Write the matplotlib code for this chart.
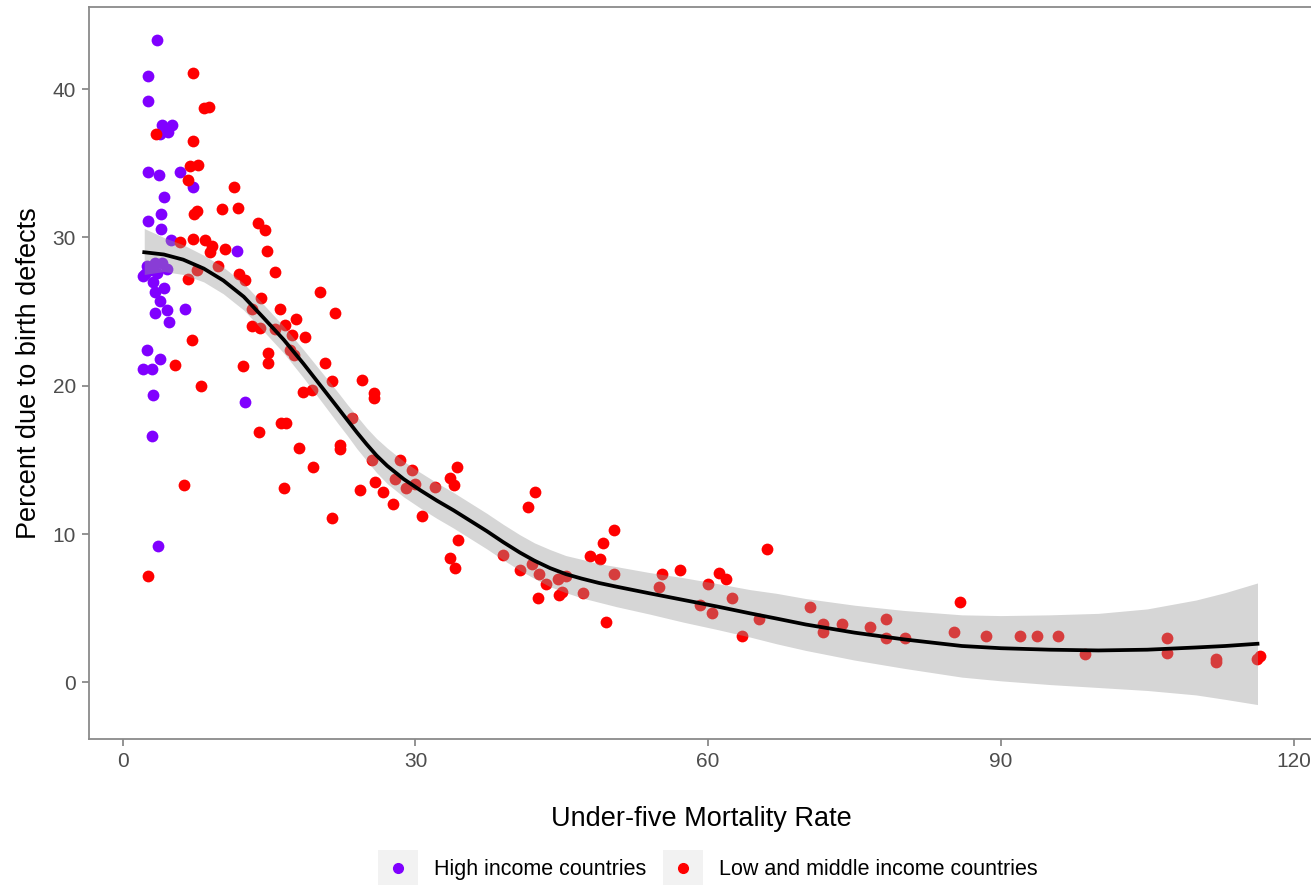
# -*- coding: utf-8 -*-
"""
Under-five mortality rate vs percent of deaths due to birth defects,
scatter by income group with a smoothed trend and confidence band.
"""

# import libraries
import matplotlib.pyplot as plt
from matplotlib.lines import Line2D
from matplotlib.patches import Rectangle
from matplotlib.legend_handler import HandlerBase

# high income countries (under-five mortality, percent due to birth defects)
high_x = [3.5, 2.6, 2.6, 4.0, 5.0, 4.6, 3.8, 2.6, 3.7, 5.9, 7.2, 4.2, 3.9,
          2.6, 3.9, 4.9, 11.7, 2.5, 3.3, 4.0, 4.5, 2.8, 2.1, 3.5, 3.1, 3.3,
          3.8, 4.5, 3.3, 4.7, 6.4, 2.5, 3.8, 2.1, 3.0, 3.1, 12.5, 3.0, 3.6,
          2.3, 3.0, 4.2]
high_y = [43.3, 40.9, 39.2, 37.6, 37.6, 37.1, 37.0, 34.4, 34.2, 34.4, 33.4,
          32.7, 31.6, 31.1, 30.6, 29.8, 29.1, 28.1, 28.3, 28.3, 27.9, 27.8,
          27.4, 27.6, 27.0, 26.3, 25.7, 25.1, 24.9, 24.3, 25.2, 22.4, 21.8,
          21.1, 21.1, 19.4, 18.9, 16.6, 9.2, 27.5, 28.0, 26.6]

# low and middle income countries
low_x = [2.6, 3.4, 5.4, 5.9, 6.3, 6.7, 6.7, 6.9, 7.1, 7.2, 7.2, 7.2, 7.3,
         7.6, 7.6, 7.7, 8.0, 8.3, 8.4, 8.8, 8.9, 9.1, 9.8, 10.2, 10.5, 11.4,
         11.8, 11.9,
         12.3, 12.5, 13.2, 13.2, 13.9, 14.0, 14.1, 14.2, 14.6, 14.8, 14.9,
         14.9, 15.6, 15.6, 16.1, 16.2, 16.5, 16.6, 16.7, 17.1, 17.3, 17.5,
         17.8, 18.1, 18.5, 18.7, 19.4, 19.5,
         20.2, 20.7, 21.4, 21.4, 21.8, 22.3, 22.3, 23.5, 24.3, 24.5, 25.5,
         25.7, 25.7, 25.9, 26.7, 27.7, 27.9, 28.4, 29.0, 29.6, 30.0, 30.7,
         32.0, 33.5, 33.9, 34.3, 34.4, 33.5, 34.1,
         42.3, 41.5, 39.0, 40.7, 41.9, 42.7, 43.4, 44.6, 45.4, 45.0, 44.7,
         42.6, 47.2, 47.9, 48.9, 49.2, 50.3, 50.3, 49.5, 55.3, 55.0, 57.1,
         59.2, 60.0, 60.4, 61.1, 61.8, 62.4, 63.5, 65.2, 66.0,
         70.4, 71.8, 71.8, 73.7, 76.6, 78.2, 78.2, 80.2, 85.8, 85.2, 88.5,
         92.0, 93.7, 95.9, 98.6, 107.0, 107.0, 112.0, 112.0, 116.2, 116.6]
low_y = [7.2, 37.0, 21.4, 29.7, 13.3, 27.2, 33.9, 34.8, 23.1, 41.1, 36.5,
         29.9, 31.6, 31.8, 27.8, 34.9, 20.0, 38.7, 29.8, 38.8, 29.0, 29.4,
         28.1, 31.9, 29.2, 33.4, 32.0, 27.5,
         21.3, 27.1, 25.2, 24.0, 31.0, 16.9, 23.9, 25.9, 30.5, 29.1, 22.2,
         21.5, 27.7, 23.8, 25.2, 17.5, 13.1, 24.1, 17.5, 22.4, 23.4, 22.1,
         24.5, 15.8, 19.6, 23.3, 19.7, 14.5,
         26.3, 21.5, 20.3, 11.1, 24.9, 16.0, 15.7, 17.8, 13.0, 20.4, 15.0,
         19.5, 19.2, 13.5, 12.8, 12.0, 13.7, 15.0, 13.1, 14.3, 13.4, 11.2,
         13.2, 13.8, 13.3, 14.5, 9.6, 8.4, 7.7,
         12.8, 11.8, 8.6, 7.6, 8.0, 7.3, 6.6, 7.0, 7.2, 6.1, 5.9,
         5.7, 6.0, 8.5, 8.3, 9.4, 10.3, 7.3, 4.1, 7.3, 6.4, 7.6,
         5.2, 6.6, 4.7, 7.4, 7.0, 5.7, 3.1, 4.3, 9.0,
         5.1, 3.9, 3.4, 3.9, 3.7, 4.3, 3.0, 3.0, 5.4, 3.4, 3.1,
         3.1, 3.1, 3.1, 1.9, 3.0, 2.0, 1.6, 1.4, 1.6, 1.8]

# smoothed trend and its confidence band
fit_x = [2.2, 4.2, 6.2, 8.3, 10.3, 12.4, 14.4, 16.5, 18.5, 20.4, 22.0,
         23.0, 24.0, 25.0, 26.0, 27.1, 28.8, 30.5, 32.2, 33.9, 35.6, 37.3,
         39.0, 40.7, 42.2, 43.8, 45.4, 47.0, 48.8, 50.6, 54.0, 57.5, 61.0,
         64.3, 67.0, 70.0, 75.0, 80.0, 86.0, 90.0, 95.0, 100.0, 105.0,
         110.0, 113.0, 116.3]
fit_y = [29.0, 28.85, 28.5, 27.9, 27.1, 26.0, 24.6, 23.1, 21.5, 19.9, 18.55,
         17.7, 16.85, 16.05, 15.3, 14.6, 13.7, 12.95, 12.25, 11.6, 10.9, 10.2,
         9.45, 8.75, 8.2, 7.7, 7.3, 7.0, 6.7, 6.45, 6.0, 5.55, 5.1,
         4.65, 4.3, 3.9, 3.35, 2.9, 2.45, 2.3, 2.2, 2.15, 2.2,
         2.35, 2.45, 2.6]
fit_lo = [27.5, 27.7, 27.5, 27.0, 26.2, 25.1, 23.7, 22.2, 20.55, 18.9, 17.5,
          16.65, 15.75, 14.95, 14.15, 13.4, 12.5, 11.75, 11.05, 10.4, 9.7, 9.0,
          8.25, 7.55, 7.0, 6.45, 6.05, 5.7, 5.4, 5.1, 4.6, 4.05, 3.55,
          3.05, 2.6, 2.15, 1.5, 0.95, 0.35, 0.1, -0.15, -0.35, -0.55,
          -0.85, -1.15, -1.5]
fit_hi = [30.6, 30.0, 29.5, 28.8, 28.0, 26.9, 25.5, 24.0, 22.45, 20.9, 19.6,
          18.75, 17.95, 17.15, 16.45, 15.8, 14.9, 14.15, 13.45, 12.8, 12.1, 11.4,
          10.65, 9.95, 9.4, 8.95, 8.55, 8.3, 8.0, 7.8, 7.4, 7.05, 6.65,
          6.25, 6.0, 5.65, 5.2, 4.85, 4.55, 4.5, 4.55, 4.65, 4.95,
          5.55, 6.05, 6.7]

# colours
purple = "#8000FF"
red = "#FF0000"
grey_txt = "#4D4D4D"
frame = "#8A8A8A"

plt.rcParams["font.family"] = ["Liberation Sans", "DejaVu Sans"]


class KeyHandler(HandlerBase):
    """ grey key box with a dot in its centre, like the ggplot legend """

    def create_artists(self, legend, orig_handle, xdescent, ydescent,
                       width, height, fontsize, trans):
        box = Rectangle((-xdescent, -ydescent), width, height,
                        facecolor="#F2F2F2", edgecolor="none",
                        transform=trans)
        dot = Line2D([width / 2 - xdescent], [height / 2 - ydescent],
                     marker="o", ls="", markersize=7,
                     color=orig_handle.get_color(), transform=trans)
        return [box, dot]


# make the figure
fig = plt.figure(figsize=(13.11, 8.85), dpi=100)
ax = fig.add_axes([0.0676, 0.1645, 0.9355, 0.8278])

# plot the points, then the smooth on top
ax.scatter(high_x, high_y, s=72, color=purple, linewidths=0, zorder=2)
ax.scatter(low_x, low_y, s=72, color=red, linewidths=0, zorder=2)
ax.fill_between(fit_x, fit_lo, fit_hi, color="#999999", alpha=0.4,
                linewidth=0, zorder=3)
ax.plot(fit_x, fit_y, color="black", linewidth=2.7, zorder=4)

# axes limits and ticks
ax.set_xlim(-3.5, 122.2)
ax.set_ylim(-3.85, 45.55)
ax.set_xticks([0, 30, 60, 90, 120])
ax.set_yticks([0, 10, 20, 30, 40])
ax.tick_params(length=5, width=1.3, color=frame, labelcolor=grey_txt,
               labelsize=15, pad=4)
for sp in ax.spines.values():
    sp.set_color(frame)
    sp.set_linewidth(1.3)

# labeling
ax.set_xlabel("Under-five Mortality Rate", fontsize=19.5, labelpad=25)
ax.set_ylabel("Percent due to birth defects", fontsize=19.5, labelpad=8)

# legend at the bottom with grey key boxes
handles = [Line2D([], [], color=purple), Line2D([], [], color=red)]
fig.legend(handles, ["High income countries", "Low and middle income countries"],
           handler_map={Line2D: KeyHandler()},
           loc="center", bbox_to_anchor=(0.54, 0.019), ncol=2,
           frameon=False, fontsize=15.5, handlelength=1.86, handleheight=2.2,
           handletextpad=0.75, columnspacing=0.75)

# save the figure
fig.savefig("out.png", dpi=100)
